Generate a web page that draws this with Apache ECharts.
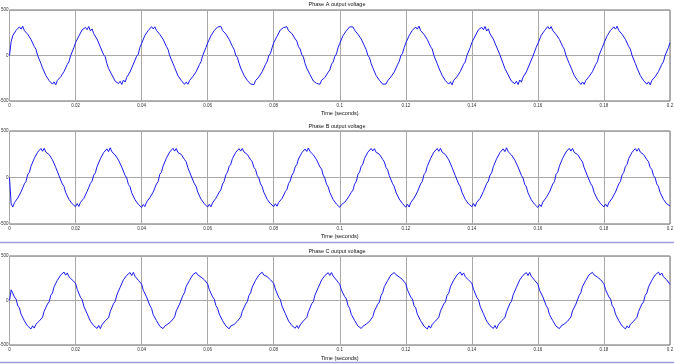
<!DOCTYPE html>
<html><head><meta charset="utf-8">
<script src="https://cdn.jsdelivr.net/npm/echarts@6/dist/echarts.min.js"></script>
<style>html,body{margin:0;padding:0;background:#fff}#c{width:674px;height:364px}</style>
</head><body><div id="c"></div>
<script>
const timeStep = 0.0005;
const titles = ['Phase A output voltage', 'Phase B output voltage', 'Phase C output voltage'];
const xName = 'Time (seconds)';
const xMin = 0, xMax = 0.2, xInterval = 0.02;
const yMin = -500, yMax = 500, yInterval = 500;

const phaseA = [
0,153,219,225,276,266,315,290,322,274,288,234,233,177,164,98,70,2,-19,-86,-136,-153,-219,-225,-276,-266,-315,-290,-322,-274,-288,-234,-233,-177,-164,-98,-70,-2,19,86,
142,157,213,221,282,270,309,284,318,270,292,240,239,181,160,94,74,8,-15,-90,-142,-157,-213,-221,-282,-270,-309,-284,-318,-270,-292,-240,-239,-181,-160,-94,-74,-8,15,90,
132,149,221,227,274,262,317,292,316,276,284,232,237,179,166,100,68,0,-21,-88,-132,-149,-221,-227,-274,-262,-317,-292,-316,-276,-284,-232,-237,-179,-166,-100,-68,0,21,88,
138,155,217,227,274,268,313,292,320,276,286,236,231,179,162,100,68,4,-21,-84,-138,-155,-217,-227,-274,-268,-313,-292,-320,-276,-286,-236,-231,-179,-162,-100,-68,-4,21,84,
140,159,211,223,280,272,307,286,316,272,290,242,237,183,158,96,72,10,-17,-88,-140,-159,-211,-223,-280,-272,-307,-286,-316,-272,-290,-242,-237,-183,-158,-96,-72,-10,17,88,
134,151,219,229,272,264,315,294,314,278,282,234,235,181,164,102,66,2,-23,-86,-134,-151,-219,-229,-272,-264,-315,-294,-314,-278,-282,-234,-235,-181,-164,-102,-66,-2,23,86,
137,154,218,224,277,267,314,289,323,273,289,233,234,176,165,97,71,1,-18,-87,-137,-154,-218,-224,-277,-267,-314,-289,-323,-273,-289,-233,-234,-176,-165,-97,-71,-1,18,87,
143,156,214,220,283,269,310,283,319,269,293,239,240,180,161,93,75,7,-14,-91,-143,-156,-214,-220,-283,-269,-310,-283,-319,-269,-293,-239,-240,-180,-161,-93,-75,-7,14,91,
131,150,220,228,273,263,318,291,317,275,285,231,238,178,167,99,69,-1,-20,-89,-131,-150,-220,-228,-273,-263,-318,-291,-317,-275,-285,-231,-238,-178,-167,-99,-69,1,20,89,
136,153,219,225,276,266,315,290,322,274,288,234,233,177,164,98,70,2,-19,-86,-136,-153,-219,-225,-276,-266,-315,-290,-322,-274,-288,-234,-233,-177,-164,-98,-70,-2,19,86,
140
];

const phaseB = [
0,-286,-317,-270,-276,-221,-211,-155,-136,-68,-43,30,54,120,140,205,211,272,264,312,282,314,273,290,246,247,191,171,108,88,19,-2,-70,-96,-160,-173,-235,-232,-284,-268,
-314,-280,-311,-266,-280,-225,-215,-151,-132,-64,-39,26,50,116,136,201,207,268,260,308,278,320,277,294,242,243,187,175,112,92,23,-6,-74,-100,-164,-177,-239,-236,-288,-272,
-322,-290,-313,-264,-272,-217,-209,-157,-138,-70,-45,34,56,122,142,207,213,274,266,314,284,312,269,288,248,249,193,169,106,86,17,2,-68,-94,-158,-171,-233,-230,-282,-266,
-318,-288,-315,-272,-274,-223,-209,-157,-134,-70,-41,28,56,118,142,203,213,270,266,310,284,312,275,288,248,245,193,169,110,86,21,-4,-68,-98,-158,-175,-233,-234,-282,-270,
-312,-282,-309,-268,-278,-227,-213,-153,-130,-66,-37,24,52,114,138,199,209,266,262,306,280,318,279,292,244,241,189,173,114,90,25,-8,-72,-102,-162,-179,-237,-238,-286,-274,
-320,-292,-311,-266,-270,-219,-207,-159,-136,-72,-43,32,58,120,144,205,215,272,268,312,286,310,271,286,250,247,195,167,108,84,19,0,-66,-96,-156,-173,-231,-232,-280,-268,
-320,-286,-317,-270,-276,-221,-211,-155,-136,-68,-43,30,54,120,140,205,211,272,264,312,282,314,273,290,246,247,191,171,108,88,19,-2,-70,-96,-160,-173,-235,-232,-284,-268,
-314,-280,-311,-266,-280,-225,-215,-151,-132,-64,-39,26,50,116,136,201,207,268,260,308,278,320,277,294,242,243,187,175,112,92,23,-6,-74,-100,-164,-177,-239,-236,-288,-272,
-322,-290,-313,-264,-272,-217,-209,-157,-138,-70,-45,34,56,122,142,207,213,274,266,314,284,312,269,288,248,249,193,169,106,86,17,2,-68,-94,-158,-171,-233,-230,-282,-266,
-316,-287,-314,-271,-275,-222,-210,-156,-135,-69,-42,29,55,119,141,204,212,271,265,311,283,313,274,289,247,246,192,170,109,87,20,-3,-69,-97,-159,-174,-234,-233,-283,-269,
-305
];

const phaseC = [
0,120,107,39,16,-59,-83,-154,-168,-228,-229,-287,-275,-320,-284,-310,-267,-277,-231,-228,-188,-120,-107,-39,-16,59,83,154,168,228,229,287,275,320,284,310,267,277,231,228,
194,126,113,35,10,-63,-79,-148,-164,-232,-233,-283,-269,-314,-280,-316,-273,-281,-227,-222,-194,-126,-113,-35,-10,63,79,148,164,232,233,283,269,314,280,316,273,281,227,222,
184,116,103,41,20,-57,-87,-158,-170,-226,-225,-289,-277,-316,-288,-308,-263,-275,-233,-230,-184,-116,-103,-41,-20,57,87,158,170,226,225,289,277,316,288,308,263,275,233,230,
186,122,105,41,14,-57,-85,-152,-170,-226,-231,-285,-277,-318,-286,-308,-269,-275,-233,-226,-186,-122,-105,-41,-14,57,85,152,170,226,231,285,277,318,286,308,269,275,233,226,
192,128,111,37,12,-61,-81,-146,-166,-230,-235,-281,-271,-312,-282,-314,-275,-279,-229,-220,-192,-128,-111,-37,-12,61,81,146,166,230,235,281,271,312,282,314,275,279,229,220,
182,118,101,43,18,-55,-89,-156,-172,-224,-227,-287,-279,-314,-290,-306,-265,-273,-235,-228,-182,-118,-101,-43,-18,55,89,156,172,224,227,287,279,314,290,306,265,273,235,228,
188,120,107,39,16,-59,-83,-154,-168,-228,-229,-287,-275,-320,-284,-310,-267,-277,-231,-228,-188,-120,-107,-39,-16,59,83,154,168,228,229,287,275,320,284,310,267,277,231,228,
194,126,113,35,10,-63,-79,-148,-164,-232,-233,-283,-269,-314,-280,-316,-273,-281,-227,-222,-194,-126,-113,-35,-10,63,79,148,164,232,233,283,269,314,280,316,273,281,227,222,
184,116,103,41,20,-57,-87,-158,-170,-226,-225,-289,-277,-316,-288,-308,-263,-275,-233,-230,-184,-116,-103,-41,-20,57,87,158,170,226,225,289,277,316,288,308,263,275,233,230,
187,121,106,40,15,-58,-84,-153,-169,-227,-230,-286,-276,-319,-285,-309,-268,-276,-232,-227,-187,-121,-106,-40,-15,58,84,153,169,227,230,286,276,319,285,309,268,276,232,227,
180
];

const phases = [phaseA, phaseB, phaseC];
const gridPos = [
  { top: 10, height: 91, titleTop: 1, nameGap: 9 },
  { top: 131, height: 93, titleTop: 123, nameGap: 9 },
  { top: 256, height: 89, titleTop: 248, nameGap: 10 }
];
const FONT = '"Liberation Sans", Arial, sans-serif';
const fmtX = v => String(+v.toFixed(2));

const chart = echarts.init(document.getElementById('c'), null, { renderer: 'canvas' });
chart.setOption({
  animation: false,
  backgroundColor: '#ffffff',
  title: gridPos.map((g, i) => ({
    text: titles[i], left: 'center', top: g.titleTop, padding: 0,
    textStyle: { fontFamily: FONT, fontSize: 5.5, fontWeight: 'normal', color: '#111' }
  })),
  grid: gridPos.map(g => ({
    left: 9.5, right: 4, top: g.top, height: g.height,
    outerBoundsMode: 'none', containLabel: false,
    show: true, borderColor: '#6a6a6a', borderWidth: 1, backgroundColor: '#fff'
  })),
  xAxis: gridPos.map((g, i) => ({
    type: 'value', gridIndex: i, min: xMin, max: xMax, interval: xInterval,
    name: xName, nameLocation: 'middle', nameGap: g.nameGap,
    nameTextStyle: { fontFamily: FONT, fontSize: 5.5, color: '#111' },
    axisLine: { show: false }, axisTick: { show: false },
    axisLabel: { fontFamily: FONT, fontSize: 4.5, color: '#333', margin: 2.5, formatter: fmtX },
    splitLine: { show: true, lineStyle: { color: '#a8a8a8', width: 1 } }
  })),
  yAxis: gridPos.map((g, i) => ({
    type: 'value', gridIndex: i, min: yMin, max: yMax, interval: yInterval,
    axisLine: { show: false }, axisTick: { show: false },
    axisLabel: { fontFamily: FONT, fontSize: 4.5, color: '#333', margin: 1 },
    splitLine: { show: true, lineStyle: { color: '#a8a8a8', width: 1 } }
  })),
  series: phases.map((arr, i) => ({
    type: 'line', xAxisIndex: i, yAxisIndex: i, showSymbol: false, symbol: 'none',
    data: arr.map((v, k) => [k * timeStep, v]),
    lineStyle: { color: '#1a1aee', width: 1 }, silent: true
  })),
  graphic: [
    { type: 'line', shape: { x1: 0, y1: 242.5, x2: 674, y2: 242.5 }, style: { stroke: '#9c9ce0', lineWidth: 1.5 } },
    { type: 'line', shape: { x1: 0, y1: 362.5, x2: 674, y2: 362.5 }, style: { stroke: '#9c9ce0', lineWidth: 1.5 } }
  ]
});
</script></body></html>
